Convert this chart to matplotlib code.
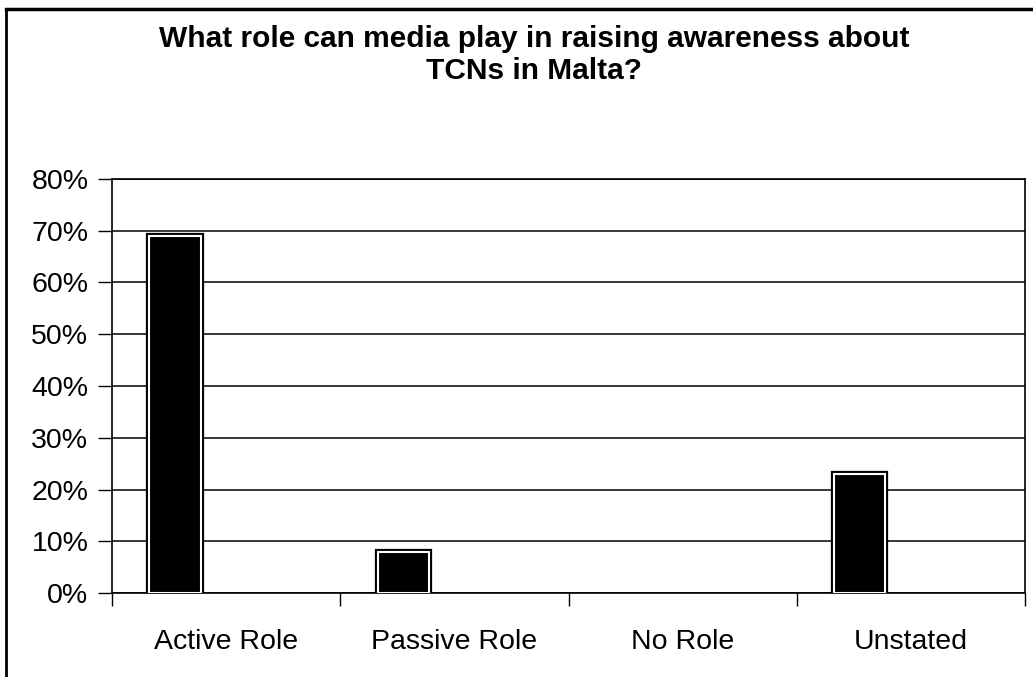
import matplotlib
matplotlib.use("Agg")
import matplotlib.pyplot as plt
import matplotlib.patheffects as pe
from matplotlib.lines import Line2D
import numpy as np

categories = ["Active Role", "Passive Role", "No Role", "Unstated"]
values = [69, 8, 0, 23]
yticks = [0, 10, 20, 30, 40, 50, 60, 70, 80]
ytick_labels = ["0%", "10%", "20%", "30%", "40%", "50%", "60%", "70%", "80%"]
title = "What role can media play in raising awareness about\nTCNs in Malta?"

plt.rcParams['font.family'] = ['Liberation Sans', 'DejaVu Sans']

fig = plt.figure(figsize=(10.33, 6.77), dpi=100)
fig.patch.set_facecolor('white')
ax = fig.add_axes([112/1033, 1-593/677, (1025-112)/1033, (593-179)/677])

x = np.arange(len(categories))
offset = -0.224
width = 0.224
bars = ax.bar(x + offset, values, width=width, color='black', edgecolor='white',
              linewidth=1.5, zorder=3)
for b, v in zip(bars, values):
    if v == 0:
        b.set_visible(False)
    b.set_path_effects([pe.Stroke(linewidth=4.5, foreground='black'), pe.Normal()])

ax.set_xlim(-0.5, len(categories) - 0.5)
ax.set_ylim(0, 80)
ax.set_yticks(yticks)
ax.set_yticklabels(ytick_labels, fontsize=20.5)
ax.yaxis.grid(True, color='black', linewidth=1.1, zorder=1)
ax.set_axisbelow(True)

# category labels centered, ticks at boundaries
ax.set_xticks(x)
ax.set_xticklabels(categories, fontsize=20.5)
ax.tick_params(axis='x', length=0, pad=26)
ax.set_xticks(np.arange(-0.5, len(categories)), minor=True)
ax.tick_params(axis='x', which='minor', length=9, width=1, direction='out', color='black')
ax.tick_params(axis='y', length=10, width=1, direction='out', pad=7, color='black')

for s in ax.spines.values():
    s.set_color('black')
    s.set_linewidth(1.2)

fig.text(534/1033, 1-55/677, title, ha='center', va='center', fontsize=21.5,
         fontweight='bold', linespacing=1.15)

# outer frame (top and left edges visible)
fig.add_artist(Line2D([6/1033, 6/1033], [0, 1-9/677], transform=fig.transFigure,
                      color='black', linewidth=2))
fig.add_artist(Line2D([6/1033, 1], [1-9/677, 1-9/677], transform=fig.transFigure,
                      color='black', linewidth=2.5))

fig.savefig("out.png", dpi=100, facecolor='white')
